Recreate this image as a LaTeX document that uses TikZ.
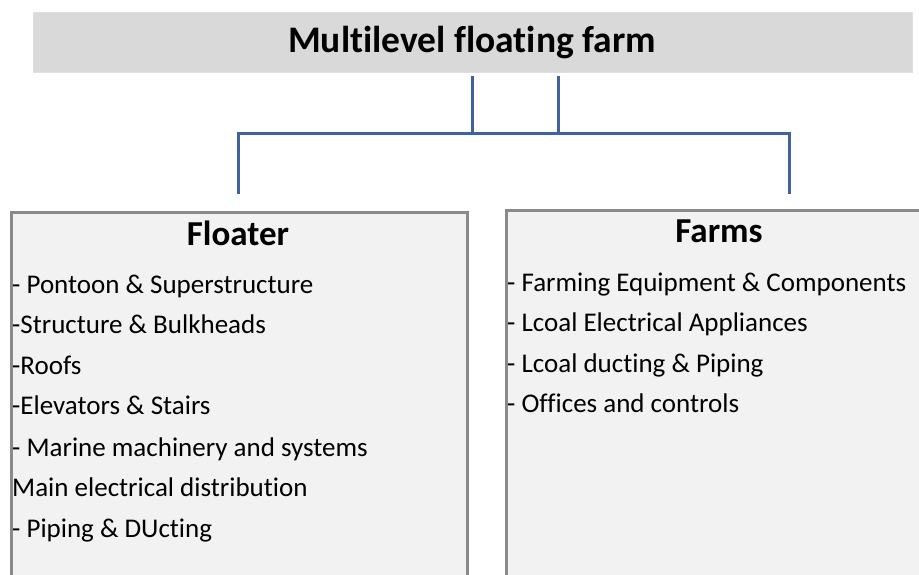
\documentclass[tikz,border=0pt]{standalone}
\usepackage{fontspec}
\setmainfont[Ligatures=NoCommon]{Carlito}
\definecolor{barfill}{HTML}{D9D9D9}
\definecolor{boxfill}{HTML}{F2F2F2}
\definecolor{boxline}{HTML}{8A8A8A}
\definecolor{connblue}{HTML}{3F62A3}
\begin{document}
\begin{tikzpicture}[x=1pt,y=-1pt,
  titlebar/.style={fill=barfill, draw=barfill!85!white, line width=0.8pt, minimum width=879pt, minimum height=60pt, inner sep=0pt, anchor=north west},
  panel/.style={fill=boxfill, draw=boxline, line width=2.6pt, inner sep=0pt, anchor=north west},
  conn/.style={draw=connblue, line width=3pt},
  heading/.style={font=\bfseries\fontsize{35}{40}\selectfont, anchor=base, inner sep=0pt},
  item/.style={font=\fontsize{27}{30}\selectfont, anchor=base west, inner sep=0pt}]
\useasboundingbox (0,0) rectangle (919,575);
\clip (0,0) rectangle (919,575);
\fill[white] (0,0) rectangle (919,575);
% title
\node[titlebar] (bar) at (33,12) {};
\node[font=\bfseries\fontsize{37.5}{42}\selectfont, anchor=base, inner sep=0pt] (title) at (472,53) {Multilevel floating farm};
% panels
\node[panel, minimum width=456pt, minimum height=400pt] (floater) at (10,211) {};
\node[panel, minimum width=440pt, minimum height=400pt] (farms) at (505,209) {};
% connectors
\coordinate (t1) at (472,76);
\coordinate (t2) at (558,76);
\coordinate (j1) at (472,134);
\coordinate (j2) at (558,134);
\coordinate (hl) at (238,134);
\coordinate (hr) at (789,134);
\coordinate (el) at (238,194);
\coordinate (er) at (789,194);
\draw[conn] (t1) -- (j1);
\draw[conn] (t2) -- (j2);
\draw[conn, line join=miter] (el) -- (hl) -- (hr) -- (er);
% floater text
\node[heading] (fh) at (238,245) {Floater};
\node[item] (f1) at (12,293) {- Pontoon \& Superstructure};
\node[item] (f2) at (12,333) {-Structure \& Bulkheads};
\node[item] (f3) at (12,374) {-Roofs};
\node[item] (f4) at (12,414) {-Elevators \& Stairs};
\node[item] (f5) at (12,456) {- Marine machinery and systems};
\node[item] (f6) at (12,496) {Main electrical distribution};
\node[item] (f7) at (12,537) {- Piping \& DUcting};
% farms text
\node[heading] (gh) at (719,243) {Farms};
\node[item] (g1) at (507,291) {- Farming Equipment \& Components};
\node[item] (g2) at (507,331) {- Lcoal Electrical Appliances};
\node[item] (g3) at (507,372) {- Lcoal ducting \& Piping};
\node[item] (g4) at (507,412) {- Offices and controls};
\end{tikzpicture}
\end{document}
